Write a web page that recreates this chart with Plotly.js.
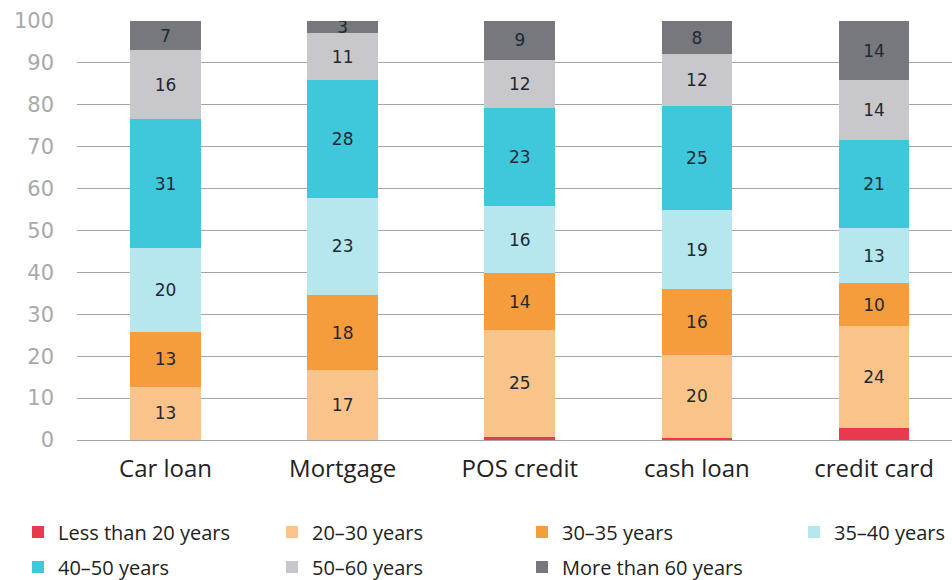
<!DOCTYPE html>
<html><head><meta charset="utf-8">
<script src="https://cdn.plot.ly/plotly-3.0.1.min.js"></script>
<style>html,body{margin:0;padding:0;background:#fff;}</style>
</head><body><div id="chart" style="width:952px;height:580px;"></div>
<script>
const categories = ['Car loan', 'Mortgage', 'POS credit', 'cash loan', 'credit card'];
const seriesNames = ['Less than 20 years', '20–30 years', '30–35 years', '35–40 years', '40–50 years', '50–60 years', 'More than 60 years'];
const under20   = [0, 0, 0.8, 0.5, 2.8];
const age20to30 = [12.7, 16.7, 25.4, 19.8, 24.4];
const age30to35 = [13.1, 17.9, 13.6, 15.7, 10.2];
const age35to40 = [20.0, 23.2, 16.0, 18.9, 13.1];
const age40to50 = [30.8, 28.1, 23.4, 24.8, 21.1];
const age50to60 = [16.4, 11.2, 11.6, 12.4, 14.3];
const over60    = [7.0, 2.9, 9.2, 7.9, 14.1];
const yTicks = [0, 10, 20, 30, 40, 50, 60, 70, 80, 90, 100];

const seriesValues = [under20, age20to30, age30to35, age35to40, age40to50, age50to60, over60];
const colors = ['#E8394F', '#F9C489', '#F59C3D', '#B6E6EE', '#3FC7DC', '#C8C8CC', '#77787D'];

// legend placement (pixel positions of legend origins)
const W = 952, H = 580, L = 77, T = 21, PW = 875, PH = 419;
const legendPx = [[18, 532], [272, 532], [522, 532], [794, 532], [18, 567], [272, 567], [522, 567]];

const traces = seriesValues.map((vals, i) => ({
  type: 'bar',
  name: seriesNames[i],
  x: categories,
  y: vals,
  marker: {color: colors[i], line: {width: 0}},
  texttemplate: i === 0 ? '' : '%{y:.0f}',
  textposition: i === 0 ? 'none' : 'inside',
  insidetextanchor: 'middle',
  textangle: 0,
  textfont: {family: 'DejaVu Sans', size: 17, color: '#1d2a33'},
  hoverinfo: 'name+y',
  legend: i === 0 ? 'legend' : 'legend' + (i + 1)
}));

const layout = {
  width: W, height: H,
  margin: {l: L, r: W - L - PW, t: T, b: H - T - PH, pad: 0, autoexpand: false},
  paper_bgcolor: '#fff', plot_bgcolor: '#fff',
  barmode: 'stack',
  bargap: 0.6,
  uniformtext: {mode: 'show', minsize: 17},
  xaxis: {
    type: 'category',
    range: [-0.5, 4.44],
    showgrid: false, zeroline: false, showline: false, ticks: '',
    tickfont: {family: 'Open Sans', size: 24, color: '#222'},
    ticklabelstandoff: 12,
    automargin: false,
    fixedrange: true
  },
  yaxis: {
    range: [0, 100],
    tickvals: yTicks,
    showgrid: true, gridcolor: '#a6a6a6', gridwidth: 1,
    zeroline: true, zerolinecolor: '#a6a6a6', zerolinewidth: 1,
    showline: false, ticks: '',
    tickfont: {family: 'DejaVu Sans', size: 21, color: '#a9a9a9'},
    ticklabelstandoff: 22,
    automargin: false,
    fixedrange: true
  },
  showlegend: true,
  font: {family: 'Open Sans', color: '#222'}
};

legendPx.forEach((p, i) => {
  const key = i === 0 ? 'legend' : 'legend' + (i + 1);
  layout[key] = {
    x: (p[0] - L) / PW,
    y: (T + PH - p[1]) / PH,
    xanchor: 'left', yanchor: 'middle',
    orientation: 'h',
    bgcolor: 'rgba(0,0,0,0)',
    borderwidth: 0,
    font: {family: 'Open Sans', size: 20, color: '#222'}
  };
});

Plotly.newPlot('chart', traces, layout, {displayModeBar: false, staticPlot: true});
</script>
</body></html>
